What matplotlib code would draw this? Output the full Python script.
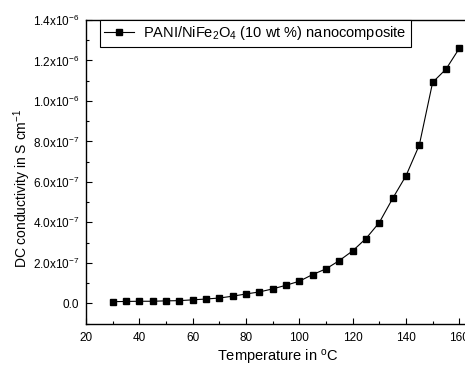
import matplotlib
matplotlib.use("Agg")
import matplotlib.pyplot as plt
from matplotlib.ticker import MultipleLocator, FixedLocator

plt.rcParams['font.family'] = ['Liberation Sans', 'DejaVu Sans']
plt.rcParams['mathtext.fontset'] = 'custom'
plt.rcParams['mathtext.rm'] = 'Liberation Sans'
plt.rcParams['mathtext.it'] = 'Liberation Sans:italic'

# temperature (deg C) and DC conductivity (S/cm)
temperature = [30, 35, 40, 45, 50, 55, 60, 65, 70, 75, 80, 85, 90, 95, 100,
               105, 110, 115, 120, 125, 130, 135, 140, 145, 150, 155, 160]
conductivity = [0.08e-7, 0.09e-7, 0.10e-7, 0.10e-7, 0.12e-7, 0.13e-7, 0.17e-7,
                0.21e-7, 0.26e-7, 0.35e-7, 0.46e-7, 0.56e-7, 0.71e-7, 0.89e-7,
                1.09e-7, 1.42e-7, 1.70e-7, 2.11e-7, 2.59e-7, 3.20e-7, 3.99e-7,
                5.18e-7, 6.30e-7, 7.82e-7, 10.92e-7, 11.57e-7, 12.60e-7]

ytick_values = [0, 2e-7, 4e-7, 6e-7, 8e-7, 1.0e-6, 1.2e-6, 1.4e-6]
ytick_labels = ['0.0', r'2.0x10$^{-7}$', r'4.0x10$^{-7}$', r'6.0x10$^{-7}$',
                r'8.0x10$^{-7}$', r'1.0x10$^{-6}$', r'1.2x10$^{-6}$', r'1.4x10$^{-6}$']
xtick_values = [20, 40, 60, 80, 100, 120, 140, 160]

fig = plt.figure(figsize=(4.65, 3.67), dpi=100)
ax = fig.add_axes([0.1849, 0.1185, 0.8258, 0.827])

ax.plot(temperature, conductivity, color='black', linewidth=0.8,
        marker='s', markersize=4.3, markerfacecolor='black',
        markeredgecolor='black',
        label=r'PANI/NiFe$_2$O$_4$ (10 wt %) nanocomposite')

ax.set_xlim(20, 164)
ax.set_ylim(-1e-7, 1.4e-6)

ax.xaxis.set_major_locator(FixedLocator(xtick_values))
ax.xaxis.set_minor_locator(MultipleLocator(10))
ax.set_yticks(ytick_values)
ax.set_yticklabels(ytick_labels)
ax.yaxis.set_minor_locator(MultipleLocator(1e-7))

ax.tick_params(which='both', direction='in', top=False, right=False,
               labelsize=8.5, width=0.8)
ax.tick_params(axis='x', which='major', length=4, pad=6)
ax.tick_params(axis='y', which='major', length=4, pad=5)
ax.tick_params(which='minor', length=2.5)

for s in ax.spines.values():
    s.set_linewidth(1.0)

ax.set_xlabel(r'Temperature in $^{\rm o}$C', fontsize=10.5)
ax.set_ylabel(r'DC conductivity in S cm$^{-1}$', fontsize=10)
ax.xaxis.set_label_coords(0.5, -0.112)
ax.yaxis.set_label_coords(-0.167, 0.446)
ax.xaxis.label.set_va('center')
ax.yaxis.label.set_va('center')

leg = ax.legend(loc='upper left', bbox_to_anchor=(0.036, 1.0), borderaxespad=0,
                fontsize=10.5, fancybox=False, framealpha=1, edgecolor='black',
                handlelength=2.05, handletextpad=0.6, borderpad=0.3)
leg.get_frame().set_linewidth(0.8)

fig.savefig('out.png', dpi=100)
